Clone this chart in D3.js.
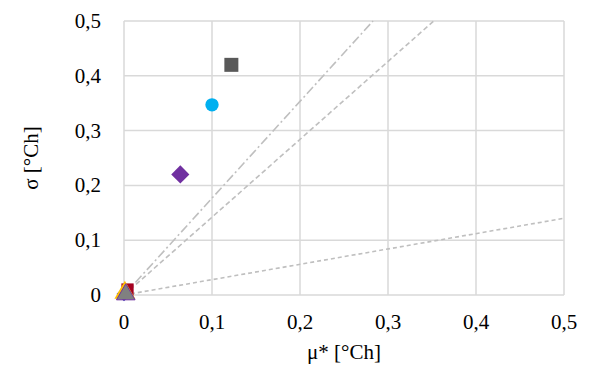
<!DOCTYPE html>
<html><head><meta charset="utf-8">
<script src="https://cdn.jsdelivr.net/npm/d3@7"></script>
</head><body style="margin:0">
<svg id="c" width="589" height="365"></svg>
<script>
const xTicks = [0, 0.1, 0.2, 0.3, 0.4, 0.5];
const yTicks = [0, 0.1, 0.2, 0.3, 0.4, 0.5];
const pointNames = ["P1", "P2", "P3", "P4", "P5", "P6", "P7"];
const pointMu =    [0.122, 0.100, 0.064, 0.004, 0.000, 0.001, 0.002];
const pointSigma = [0.420, 0.347, 0.220, 0.010, 0.002, 0.004, 0.001];
const pointShape = ["square", "circle", "diamond", "square", "diamond", "triangle", "triangle"];
const pointColor = ["#595959", "#00b0f0", "#7030a0", "#a50021", "#3b3bb8", "#ffc000", "#808080"];
const pointStroke = ["none", "none", "none", "none", "none", "none", "#7030a0"];
const pointSize = [196, 140, 165, 150, 110, 190, 150];
// reference lines from origin: end points (mu, sigma)
const lineEndMu =    [0.5, 0.352, 0.283];
const lineEndSigma = [0.140, 0.5, 0.5];
const lineDash = ["4,3", "5,3", "9,3,2,3"];

const FONT = "Times New Roman";
const svg = d3.select("#c");
const x = d3.scaleLinear().domain([0, 0.5]).range([124, 564]);
const y = d3.scaleLinear().domain([0, 0.5]).range([295, 21]);
const fmt = d => d === 0 ? "0" : d3.format(".1f")(d).replace(".", ",");

// grid
svg.append("g").selectAll("line").data(xTicks).join("line")
  .attr("x1", d => x(d)).attr("x2", d => x(d)).attr("y1", y(0)).attr("y2", y(0.5))
  .attr("stroke", "#d9d9d9").attr("stroke-width", 1.5);
svg.append("g").selectAll("line").data(yTicks).join("line")
  .attr("y1", d => y(d)).attr("y2", d => y(d)).attr("x1", x(0)).attr("x2", x(0.5))
  .attr("stroke", "#d9d9d9").attr("stroke-width", 1.5);

// tick labels positioned through the scales
svg.append("g").selectAll("text").data(xTicks).join("text")
  .attr("x", d => x(d)).attr("y", 329).attr("text-anchor", "middle")
  .attr("font-family", FONT).attr("font-size", 21).attr("fill", "#000")
  .text(fmt);
svg.append("g").selectAll("text").data(yTicks).join("text")
  .attr("x", 101).attr("y", d => y(d) + 7).attr("text-anchor", "end")
  .attr("font-family", FONT).attr("font-size", 21).attr("fill", "#000")
  .text(fmt);

// reference lines
svg.append("g").selectAll("line").data(lineEndMu).join("line")
  .attr("x1", x(0)).attr("y1", y(0))
  .attr("x2", d => x(d)).attr("y2", (d, i) => y(lineEndSigma[i]))
  .attr("stroke", "#bfbfbf").attr("stroke-width", 1.6)
  .attr("stroke-dasharray", (d, i) => lineDash[i]);

const diamond = {draw(ctx, size) { const r = Math.sqrt(size / 2); ctx.moveTo(0, -r); ctx.lineTo(r, 0); ctx.lineTo(0, r); ctx.lineTo(-r, 0); ctx.closePath(); }};
const symMap = {square: d3.symbolSquare, circle: d3.symbolCircle, diamond: diamond, triangle: d3.symbolTriangle};
const order = [0, 1, 2, 4, 3, 5, 6];
svg.append("g").selectAll("path").data(order).join("path")
  .attr("transform", i => `translate(${x(pointMu[i])},${y(pointSigma[i])})`)
  .attr("d", i => d3.symbol().type(symMap[pointShape[i]]).size(pointSize[i])())
  .attr("fill", i => pointColor[i])
  .attr("stroke", i => pointStroke[i]).attr("stroke-width", 1);

// titles
svg.append("text").attr("x", x(0.25)).attr("y", 359).attr("text-anchor", "middle")
  .attr("font-family", FONT).attr("font-size", 21).text("μ* [°Ch]");
svg.append("text").attr("transform", "translate(38,158) rotate(-90)").attr("text-anchor", "middle")
  .attr("font-family", FONT).attr("font-size", 21).text("σ [°Ch]");
</script>
</body></html>
